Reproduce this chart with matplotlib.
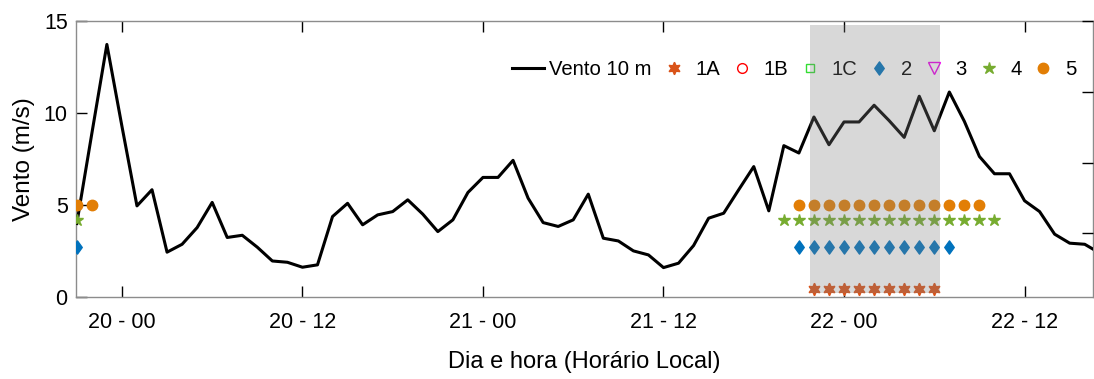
import numpy as np
import matplotlib
matplotlib.use("Agg")
import matplotlib.pyplot as plt
from matplotlib.path import Path
from matplotlib.markers import MarkerStyle

plt.rcParams['font.family'] = ['Liberation Sans', 'DejaVu Sans']

# horas relativas a 20 - 00 (hora local)
horas = [-3, -2, -1, 0, 1, 2, 3, 4, 5, 6, 7, 8, 9, 10, 11, 12, 13, 14, 15, 16,
         17, 18, 19, 20, 21, 22, 23, 24, 25, 26, 27, 28, 29, 30, 31, 32, 33,
         34, 35, 36, 37, 38, 39, 40, 41, 42, 43, 44, 45, 46, 47, 48, 49, 50,
         51, 52, 53, 54, 55, 56, 57, 58, 59, 60, 61, 62, 63, 64, 65]
vento = [4.0, 8.9, 13.75, 9.3, 4.96, 5.84, 2.44, 2.87, 3.78, 5.15, 3.24, 3.36,
         2.71, 1.96, 1.89, 1.62, 1.75, 4.38, 5.1, 3.93, 4.47, 4.65, 5.29, 4.51,
         3.56, 4.2, 5.69, 6.51, 6.51, 7.44, 5.38, 4.05, 3.84, 4.2, 5.6, 3.2,
         3.05, 2.51, 2.29, 1.6, 1.84, 2.8, 4.29, 4.56, 5.84, 7.1, 4.69, 8.24,
         7.84, 9.8, 8.29, 9.53, 9.53, 10.44, 9.6, 8.69, 10.93, 9.05, 11.16,
         9.56, 7.65, 6.71, 6.71, 5.24, 4.65, 3.42, 2.93, 2.87, 2.39]

# ocorrencias por categoria (hora) e nivel de plotagem
horas_1a = [46, 47, 48, 49, 50, 51, 52, 53, 54]
horas_1b = []
horas_1c = []
horas_2 = [-3, 45, 46, 47, 48, 49, 50, 51, 52, 53, 54, 55]
horas_3 = []
horas_4 = [-3, 44, 45, 46, 47, 48, 49, 50, 51, 52, 53, 54, 55, 56, 57, 58]
horas_5 = [-3, -2, 45, 46, 47, 48, 49, 50, 51, 52, 53, 54, 55, 56, 57]
nivel = {'1A': 0.42, '1B': 1.2, '1C': 1.9, '2': 2.71, '3': 3.5, '4': 4.2, '5': 5.0}

periodo = [45.75, 54.35]  # periodo destacado
xticks = [0, 12, 24, 36, 48, 60]
xticklabels = ['20 - 00', '20 - 12', '21 - 00', '21 - 12', '22 - 00', '22 - 12']

hexagrama = MarkerStyle((6, 1, 0))
losango = Path([(0, -1), (0.72, 0), (0, 1), (-0.72, 0), (0, -1)],
               [Path.MOVETO, Path.LINETO, Path.LINETO, Path.LINETO, Path.CLOSEPOLY])

fig = plt.figure(figsize=(10.94, 3.79), dpi=100)
ax = fig.add_axes([0.0695, 0.2164, 0.9300, 0.7269])

ax.plot(horas, vento, color='black', lw=2.2, label='Vento 10 m', zorder=3)


def serie(hs, chave, **kw):
    ax.plot(hs, [nivel[chave]] * len(hs), ls='none', label=chave, zorder=4, **kw)


serie(horas_1a, '1A', marker=hexagrama, ms=9, color='#D95319')
serie(horas_1b, '1B', marker='o', ms=7, mfc='none', mec='#FF0000', mew=1.0)
serie(horas_1c, '1C', marker='s', ms=6, mfc='none', mec='#33DD33', mew=1.0)
serie(horas_2, '2', marker=losango, ms=9.5, color='#0072BD')
serie(horas_3, '3', marker='v', ms=8, mfc='none', mec='#EE00EE', mew=1.0)
serie(horas_4, '4', marker='*', ms=9, color='#77AC30')
serie(horas_5, '5', marker='o', ms=7.5, color='#E27E05')

leg = ax.legend(loc='center right', bbox_to_anchor=(0.983, 0.824), ncol=8,
                frameon=False, fontsize=14.6, handlelength=1.58,
                handletextpad=0.26, columnspacing=0.3, borderpad=0,
                borderaxespad=0)
leg.set_zorder(5)

# faixa cinza por cima de tudo
ax.fill_between(periodo, 0.2, 14.8, color='#808080', alpha=0.3, lw=0, zorder=6)

ax.set_xlim(-3.05, 64.58)
ax.set_ylim(0, 15)
ax.set_xticks(xticks)
ax.set_xticklabels(xticklabels)
ax.set_yticks([0, 5, 10, 15])
ax.tick_params(axis='both', direction='in', length=8, width=1.0, colors='black',
               labelsize=15.5, top=True)
ax.tick_params(axis='x', pad=11)
ax.tick_params(axis='y', pad=6)
for s in ax.spines.values():
    s.set_color('#8c8c8c')
    s.set_linewidth(1.0)

ax.set_xlabel('Dia e hora (Horário Local)', fontsize=17, labelpad=13)
ax.set_ylabel('Vento (m/s)', fontsize=17.5, labelpad=6)

# eixo secundario, so com marcas
ax2 = ax.twinx()
ax2.set_ylim(0, 3.9)
ax2.set_yticks([0.9, 1.9, 2.9, 3.9])
ax2.set_yticklabels([])
ax2.tick_params(axis='y', direction='in', length=8, width=1.0, colors='black')
for s in ax2.spines.values():
    s.set_visible(False)

fig.savefig('out.png', dpi=100)
